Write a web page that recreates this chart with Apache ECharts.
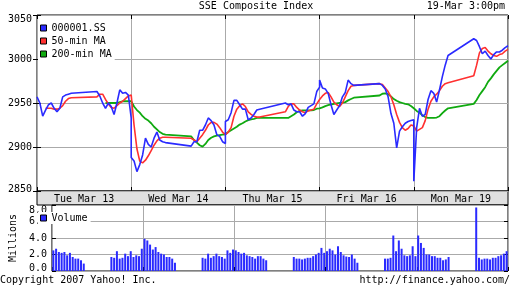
<!DOCTYPE html>
<html><head><meta charset="utf-8">
<script src="https://cdn.jsdelivr.net/npm/echarts@6/dist/echarts.min.js"></script>
<style>html,body{margin:0;padding:0;background:#fff}#c{width:512px;height:288px}</style>
</head><body><div id="c"></div>
<script>
// ---- data ----
const days = ['Tue Mar 13', 'Wed Mar 14', 'Thu Mar 15', 'Fri Mar 16', 'Mon Mar 19'];
const sessionMinutes = 330; // 9:30 -> 15:00 window per trading day
const priceTimes = [0,10,20,30,40,50,60,70,80,90,100,110,120, 210,220,230,240,250,260,270,280,290,300,310,320,330];
const volumeTimes = [5,15,25,35,45,55,65,75,85,95,105,115, 215,225,235,245,255,265,275,285,295,305,315,325];
const priceTicks = [2850, 2900, 2950, 3000, 3050];
const volumeTicks = [0, 2, 4, 6, 8];

const indexTue = [2957,2950,2935,2942,2948,2950,2944,2940,2944,2957,2959,2960,2961, 2963,2958,2950,2944,2950,2946,2937,2950,2965,2961,2962,2959,2933];
const indexWed = [2888,2884,2872,2880,2891,2910,2903,2900,2910,2917,2908,2906,2905, 2901,2906,2906,2919,2919,2925,2933,2930,2925,2914,2912,2906,2904];
const indexThu = [2929,2931,2939,2953,2953,2948,2943,2943,2931,2933,2937,2942,2943, 2950,2948,2949,2942,2940,2940,2935,2938,2945,2947,2949,2963,2968];
const indexFri = [2976,2967,2966,2961,2948,2937,2942,2947,2957,2962,2976,2972,2970, 2972,2970,2966,2957,2938,2927,2899,2918,2923,2927,2929,2930,2931];
const indexMon = [2861,2922,2944,2935,2937,2954,2964,2961,2951,2965,2980,2993,3004, 3023,3021,3014,3006,3009,3004,3000,3005,3008,3008,3010,3013,3015];

const ma50Tue = [null,null,null,2944,2944,2944,2943,2943,2944,2947,2952,2955,2956, 2957,2960,2960,2954,2949,2945,2944,2947,2950,2952,2955,2958,2959];
const ma50Wed = [2958,2925,2898,2884,2882,2885,2890,2896,2902,2907,2910,2911,2911, 2910,2908,2906,2910,2914,2919,2925,2928,2928,2926,2922,2917,2914];
const ma50Thu = [2914,2917,2922,2935,2943,2947,2949,2946,2940,2937,2935,2934,2934, 2940,2946,2949,2949,2945,2942,2940,2939,2941,2942,2943,2949,2954];
const ma50Fri = [2954,2958,2961,2962,2957,2951,2948,2946,2950,2957,2964,2969,2970, 2972,2971,2967,2963,2957,2948,2937,2928,2922,2919,2921,2925,2924];
const ma50Mon = [2922,2918,2920,2922,2930,2943,2952,2957,2960,2964,2969,2972,2973, 2981,2993,3007,3012,3013,3009,3006,3004,3003,3005,3006,3009,3011];

const ma200Tue = [null,null,null,null,null,null,null,null,null,null,null,null,null, null,null,null,2950,2950,2950,2950,2950,2951,2952,2952,2952,2952];
const ma200Wed = [2951,2946,2942,2939,2935,2932,2930,2927,2923,2920,2917,2915,2914, 2912,2908,2905,2902,2900.5,2903.5,2908,2910.5,2912,2913,2913.5,2914,2914.5];
const ma200Thu = [2915,2917,2919,2921,2923,2925.5,2927,2929,2930.5,2931.5,2932,2933,2933, 2933,2933,2935,2937,2939.5,2941,2941.6,2941.6,2941.6,2941.6,2942,2943.5,2944];
const ma200Fri = [2944,2945,2946.5,2947.5,2948.3,2949,2949.5,2950,2950.4,2951,2953,2954.5,2956, 2958.5,2960.5,2961,2960,2957.5,2954.5,2952.5,2951,2950,2949,2948.5,2946.5,2944];
const ma200Mon = [2944,2941,2939,2936,2934,2933,2933,2933,2933.5,2935,2938.5,2941.5,2944, 2949,2953.5,2959,2963.5,2968,2974,2978,2982.5,2986.5,2990.5,2993,2995.5,2998];

const volTue = [2.5,2.7,2.3,2.2,2.3,1.9,2.2,1.7,1.5,1.5,1.3,0.9, 1.7,1.6,2.4,1.5,1.6,2.1,1.8,2.4,1.7,1.9,1.8,2.7];
const volWed = [3.9,3.7,3.2,2.6,2.9,2.3,2.1,2.0,1.7,1.7,1.5,1.0, 1.6,1.5,2.1,1.6,1.8,2.1,1.8,1.7,1.5,2.5,2.2,2.6];
const volThu = [2.5,2.3,2.1,2.2,1.9,1.8,1.7,1.5,1.8,1.8,1.5,1.3, 1.7,1.5,1.5,1.4,1.5,1.6,1.6,1.8,2.0,2.2,2.8,2.2];
const volFri = [2.4,2.7,2.5,2.0,3.0,2.3,1.9,1.75,1.7,2.0,1.5,1.0, 1.5,1.5,1.6,4.3,2.4,3.7,2.7,1.9,1.8,1.9,3.0,1.8];
const volMon = [4.3,3.4,2.8,2.0,2.0,1.8,1.8,1.6,1.6,1.3,1.4,1.7, 7.7,1.6,1.4,1.5,1.5,1.4,1.6,1.6,1.8,1.9,2.1,2.4];

// ---- build ----
function pairs(dayArrays, times) {
  const out = [];
  dayArrays.forEach((arr, d) => arr.forEach((v, i) => out.push([d * sessionMinutes + times[i], v])));
  return out;
}
const FONT = "'DejaVu Sans Mono', monospace";
const txt = {fontFamily: FONT, fontSize: 10, color: '#000'};
const GRID_C = '#aaaaaa';
const BLUE = '#2a2aff', RED = '#ff3030', GREEN = '#10aa10';
const xMax = sessionMinutes * days.length;

const chart = echarts.init(document.getElementById('c'), null, {renderer: 'canvas'});
chart.setOption({
  animation: false,
  backgroundColor: '#fff',
  title: [
    {text: 'SSE Composite Index', left: 'center', top: 1, padding: 0, textStyle: Object.assign({fontWeight: 'normal'}, txt)},
    {text: '19-Mar 3:00pm', right: 7, top: 1, padding: 0, textStyle: Object.assign({fontWeight: 'normal'}, txt)},
    {text: 'Copyright 2007 Yahoo! Inc.', left: 0, top: 275, padding: 0, textStyle: Object.assign({fontWeight: 'normal'}, txt)},
    {text: 'http://finance.yahoo.com/', right: 2, top: 275, padding: 0, textStyle: Object.assign({fontWeight: 'normal'}, txt)}
  ],
  legend: [
    {data: ['000001.SS', '50-min MA', '200-min MA'], orient: 'vertical', left: 38, top: 22,
     icon: 'rect', itemWidth: 6, itemHeight: 6, itemGap: 1, padding: [0, 3, 1, 2],
     backgroundColor: '#fff', textStyle: Object.assign({lineHeight: 12}, txt),
     itemStyle: {borderColor: '#000', borderWidth: 1}},
    {data: ['Volume'], left: 38, top: 212, icon: 'rect', itemWidth: 6, itemHeight: 6,
     padding: [0, 3, 0, 2], backgroundColor: '#fff', textStyle: Object.assign({lineHeight: 12}, txt),
     itemStyle: {borderColor: '#000', borderWidth: 1}}
  ],
  grid: [
    {left: 37, top: 15, width: 471, height: 176, show: true, borderColor: '#000', borderWidth: 1},
    {left: 37, top: 205, width: 471, height: 66, show: true, borderColor: '#000', borderWidth: 1}
  ],
  graphic: {elements: [
    {type: 'rect', z: -10, shape: {x: 37, y: 191, width: 471, height: 14}, style: {fill: '#e0e0e0', stroke: '#000', lineWidth: 1}}
  ]},
  xAxis: [
    {type: 'value', gridIndex: 0, min: 0, max: xMax, interval: sessionMinutes,
     axisLine: {show: false}, axisLabel: {show: false},
     axisTick: {show: true, inside: true, length: 4, lineStyle: {color: '#000'}},
     splitLine: {show: true, lineStyle: {color: GRID_C, width: 1}}},
    {type: 'category', gridIndex: 0, data: days, position: 'bottom', boundaryGap: true,
     axisLine: {show: false}, axisTick: {show: false}, splitLine: {show: false},
     axisLabel: Object.assign({margin: 3, interval: 0}, txt)},
    {type: 'value', gridIndex: 0, position: 'top', min: 0, max: xMax, interval: sessionMinutes,
     axisLine: {show: false}, axisLabel: {show: false}, splitLine: {show: false},
     axisTick: {show: true, inside: true, length: 4, lineStyle: {color: '#000'}}},
    {type: 'value', gridIndex: 1, min: 0, max: xMax, interval: sessionMinutes,
     axisLine: {show: false}, axisLabel: {show: false},
     axisTick: {show: true, inside: true, length: 4, lineStyle: {color: '#000'}},
     splitLine: {show: true, lineStyle: {color: GRID_C, width: 1}}}
  ],
  yAxis: [
    {type: 'value', gridIndex: 0, min: priceTicks[0], max: priceTicks[priceTicks.length - 1], interval: 50,
     axisLine: {show: false},
     axisTick: {show: true, inside: true, length: 4, lineStyle: {color: '#000'}},
     splitLine: {show: true, lineStyle: {color: GRID_C, width: 1}},
     axisLabel: Object.assign({margin: 5,
       formatter: v => v === priceTicks[priceTicks.length - 1] ? '{t|' + v + '}' : v === priceTicks[0] ? '{b|' + v + '}' : String(v),
       rich: {t: Object.assign({padding: [9, 0, 0, 0]}, txt), b: Object.assign({padding: [0, 0, 3, 0]}, txt)}}, txt)},
    {type: 'value', gridIndex: 0, position: 'right', min: priceTicks[0], max: priceTicks[priceTicks.length - 1], interval: 50,
     axisLine: {show: false}, axisLabel: {show: false}, splitLine: {show: false},
     axisTick: {show: true, inside: true, length: 4, lineStyle: {color: '#000'}}},
    {type: 'value', gridIndex: 1, min: volumeTicks[0], max: volumeTicks[volumeTicks.length - 1], interval: 2,
     name: 'Millions', nameLocation: 'middle', nameRotate: 90, nameGap: 26, nameTextStyle: txt,
     axisLine: {show: false},
     axisTick: {show: true, inside: true, length: 4, lineStyle: {color: '#000'}},
     splitLine: {show: true, lineStyle: {color: GRID_C, width: 1}},
     axisLabel: Object.assign({margin: 5,
       formatter: v => v === volumeTicks[volumeTicks.length - 1] ? '{t|' + v.toFixed(1) + '}' : v === volumeTicks[0] ? '{b|' + v.toFixed(1) + '}' : v.toFixed(1),
       rich: {t: Object.assign({padding: [11, 0, 0, 0]}, txt), b: Object.assign({padding: [0, 0, 5, 0]}, txt)}}, txt)},
    {type: 'value', gridIndex: 1, position: 'right', min: 0, max: 8, interval: 2,
     axisLine: {show: false}, axisLabel: {show: false}, splitLine: {show: false},
     axisTick: {show: true, inside: true, length: 4, lineStyle: {color: '#000'}}}
  ],
  series: [
    {name: '000001.SS', type: 'line', xAxisIndex: 0, yAxisIndex: 0, z: 4, showSymbol: false, color: BLUE,
     lineStyle: {width: 1.6, color: BLUE},
     data: pairs([indexTue, indexWed, indexThu, indexFri, indexMon], priceTimes)},
    {name: '50-min MA', type: 'line', xAxisIndex: 0, yAxisIndex: 0, z: 3, showSymbol: false, color: RED,
     lineStyle: {width: 1.6, color: RED},
     data: pairs([ma50Tue, ma50Wed, ma50Thu, ma50Fri, ma50Mon], priceTimes)},
    {name: '200-min MA', type: 'line', xAxisIndex: 0, yAxisIndex: 0, z: 2, showSymbol: false, color: GREEN,
     lineStyle: {width: 1.8, color: GREEN},
     data: pairs([ma200Tue, ma200Wed, ma200Thu, ma200Fri, ma200Mon], priceTimes)},
    {name: 'Volume', type: 'bar', xAxisIndex: 3, yAxisIndex: 2, barWidth: 2, color: BLUE,
     itemStyle: {color: BLUE},
     data: pairs([volTue, volWed, volThu, volFri, volMon], volumeTimes)}
  ]
});
</script></body></html>
